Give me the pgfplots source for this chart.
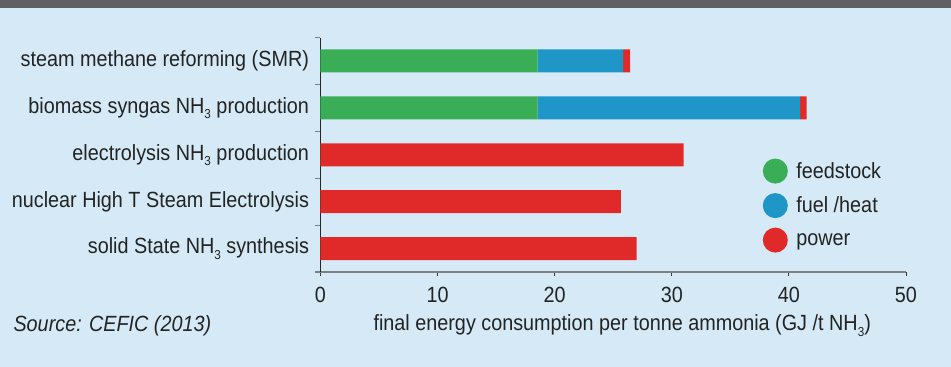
\documentclass[border=0pt]{standalone}
\usepackage{fontspec}
\setmainfont{Liberation Sans}[FakeStretch=0.9]
\usepackage{pgfplots}
\pgfplotsset{compat=1.18}
\definecolor{bg}{RGB}{213,234,246}
\definecolor{topbar}{RGB}{95,97,99}
\definecolor{cfeed}{RGB}{57,174,87}
\definecolor{cfuel}{RGB}{30,150,199}
\definecolor{cpow}{RGB}{224,42,42}
\definecolor{txt}{RGB}{35,35,35}
\newcommand\sub[1]{\raisebox{-0.45ex}{\fontsize{13pt}{13pt}\selectfont #1}}
\begin{document}
\begin{tikzpicture}[x=1pt,y=1pt]
\useasboundingbox (0,0) rectangle (951,367);
\fill[bg] (0,0) rectangle (951,367);
\fill[topbar] (0,359) rectangle (951,367);
\begin{axis}[
  at={(320.5pt,95pt)}, anchor=south west,
  scale only axis, width=585.5pt, height=234.5pt,
  xbar stacked, bar width=23pt,
  xmin=0, xmax=50, ymin=-0.5, ymax=4.5, y dir=reverse,
  xtick={0,10,...,50},
  ytick={0,...,4},
  yticklabels={steam methane reforming (SMR), biomass syngas NH\sub{3} production, electrolysis NH\sub{3} production, nuclear High T Steam Electrolysis, solid State NH\sub{3} synthesis},
  minor ytick={-0.5,0.5,...,4.5},
  axis x line*=bottom, axis y line*=left,
  x axis line style={-, draw=gray, line width=1.8pt, shorten <=-4pt},
  y axis line style={-, draw=black!85, line width=0.8pt},
  tick align=outside,
  major tick length=4pt, minor tick length=5pt,
  every major y tick/.style={draw=none},
  every minor y tick/.style={draw=gray, line width=1.2pt},
  xtick style={draw=black!80, line width=0.8pt},
  /pgf/number format/assume math mode=true,
  tick label style={font=\fontsize{22pt}{22pt}\selectfont, text=txt},
  yticklabel style={xshift=-4pt},
  xticklabel style={yshift=-8pt},
  xlabel={final energy consumption per tonne ammonia (GJ /t NH\sub{3})},
  xlabel style={font=\fontsize{22pt}{22pt}\selectfont, text=txt, xshift=9pt, yshift=-5pt},
  legend style={at={(0.75,0.493)}, anchor=north west, draw=none, fill=none,
    font=\fontsize{22pt}{22pt}\selectfont, text=txt, row sep=9.5pt},
  legend cell align=left,
  legend image code/.code={\fill[#1,draw=none] (0pt,0pt) circle (12.5pt); \path (19pt,0pt);},
  clip=false,
]
\addplot[fill=cfeed, draw=none] coordinates {(18.55,0) (18.55,1) (0,2) (0,3) (0,4)};
\addplot[fill=cfuel, draw=none] coordinates {(7.3,0) (22.4,1) (0,2) (0,3) (0,4)};
\addplot[fill=cpow, draw=none] coordinates {(0.6,0) (0.57,1) (31.0,2) (25.65,3) (27.0,4)};
\legend{feedstock, fuel /heat, power}
\end{axis}
\node[anchor=base west, font=\fontsize{22pt}{22pt}\selectfont\itshape, text=txt] at (10,35) {Source: CEFIC (2013)};
\end{tikzpicture}
\end{document}
